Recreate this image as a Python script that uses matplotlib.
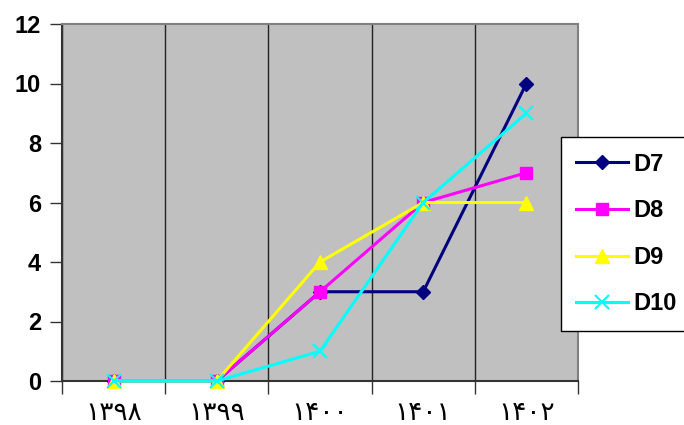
#!/usr/bin/env python3

import matplotlib.pyplot as plt
import numpy as np

years = ["۱۳۹۸", "۱۳۹۹", "۱۴۰۰", "۱۴۰۱", "۱۴۰۲"]
d7 = [0, 0, 3, 3, 10]
d8 = [0, 0, 3, 6, 7]
d9 = [0, 0, 4, 6, 6]
d10 = [0, 0, 1, 6, 9]

fig = plt.figure(figsize=(6.84, 4.25), dpi=100)
ax = fig.add_axes([62 / 684, 1 - 381 / 425, (578 - 62) / 684, (381 - 24) / 425])
ax.set_facecolor("#c0c0c0")

x = np.arange(len(years))
ax.plot(x, d7, color="#000080", lw=2.2, marker="D", ms=7, label="D7", clip_on=False, zorder=3)
ax.plot(x, d8, color="#ff00ff", lw=2.2, marker="s", ms=9, label="D8", clip_on=False, zorder=4)
ax.plot(x, d9, color="#ffff00", lw=2.2, marker="^", ms=10, label="D9", clip_on=False, zorder=5)
ax.plot(x, d10, color="#00ffff", lw=2.2, marker="x", ms=10, mew=1.5, label="D10", clip_on=False, zorder=6)

ax.set_xlim(-0.5, len(years) - 0.5)
ax.set_ylim(0, 12)
ax.set_yticks(np.arange(0, 13, 2))
ax.set_xticks(x)
ax.set_xticklabels(years, fontsize=19, family="DejaVu Sans")
ax.set_xticks(np.arange(-0.5, len(years), 1), minor=True)
ax.tick_params(axis="x", which="major", length=0, pad=14)
ax.tick_params(axis="x", which="minor", length=9, width=1, color="#333333")
ax.tick_params(axis="y", length=9, width=1, color="#333333", pad=6)
for lab in ax.get_yticklabels():
    lab.set_fontweight("bold")
    lab.set_family("Liberation Sans")
    lab.set_fontsize(17)

ax.grid(True, axis="x", which="minor", color="#222222", lw=1)
for s in ["top", "right"]:
    ax.spines[s].set_color("#808080")
    ax.spines[s].set_linewidth(1.5)
for s in ["left", "bottom"]:
    ax.spines[s].set_color("#333333")
    ax.spines[s].set_linewidth(1.5)

leg = fig.legend(loc="center left", bbox_to_anchor=(561 / 684, 1 - 234 / 425),
                 frameon=True, fancybox=False, edgecolor="black", framealpha=1,
                 prop={"weight": "bold", "size": 17, "family": "Liberation Sans"},
                 handlelength=2.2, labelspacing=1.0, borderpad=0.65,
                 handletextpad=0.2, borderaxespad=0)
leg.get_frame().set_linewidth(1)

plt.savefig("out.png", dpi=100)
plt.close()
